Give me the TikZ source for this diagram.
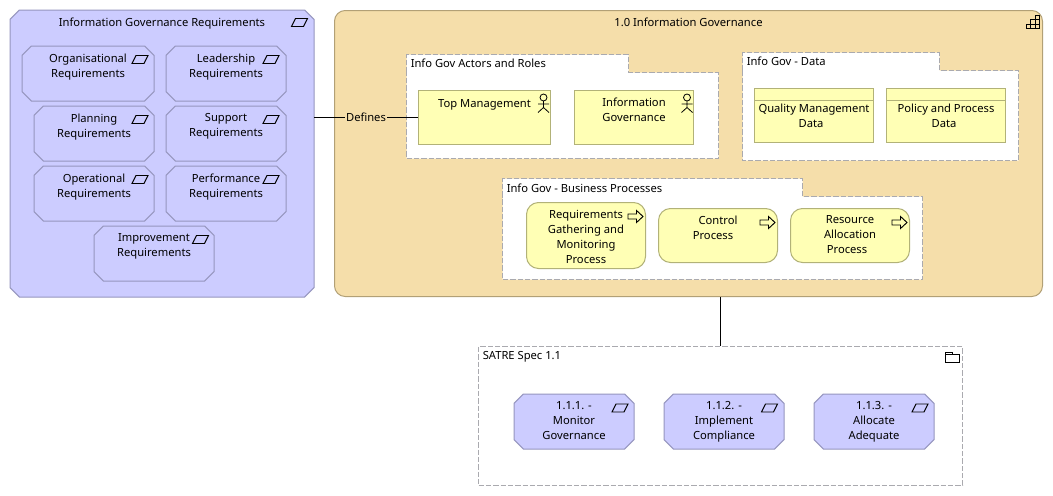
\documentclass[tikz,border=0pt]{standalone}
\usepackage{fontspec}
\setmainfont{Noto Sans}
\definecolor{reqblue}{RGB}{204, 204, 255}
\definecolor{reqline}{RGB}{150, 150, 190}
\definecolor{govtan}{RGB}{245, 222, 170}
\definecolor{govline}{RGB}{178, 160, 118}
\definecolor{actyellow}{RGB}{255, 255, 181}
\definecolor{actline}{RGB}{178, 178, 120}
\definecolor{dashgray}{RGB}{170, 170, 175}
\makeatletter
\pgfdeclareshape{octbox}{
  \inheritsavedanchors[from=rectangle]
  \inheritanchorborder[from=rectangle]
  \inheritanchor[from=rectangle]{center}
  \inheritanchor[from=rectangle]{north}
  \inheritanchor[from=rectangle]{south}
  \inheritanchor[from=rectangle]{east}
  \inheritanchor[from=rectangle]{west}
  \backgroundpath{
    \southwest \edef\octxa{\the\pgf@x}\edef\octya{\the\pgf@y}
    \northeast \edef\octxb{\the\pgf@x}\edef\octyb{\the\pgf@y}
    \def\octc{7pt}
    \pgfpathmoveto{\pgfpoint{\octxa+\octc}{\octya}}
    \pgfpathlineto{\pgfpoint{\octxb-\octc}{\octya}}
    \pgfpathlineto{\pgfpoint{\octxb}{\octya+\octc}}
    \pgfpathlineto{\pgfpoint{\octxb}{\octyb-\octc}}
    \pgfpathlineto{\pgfpoint{\octxb-\octc}{\octyb}}
    \pgfpathlineto{\pgfpoint{\octxa+\octc}{\octyb}}
    \pgfpathlineto{\pgfpoint{\octxa}{\octyb-\octc}}
    \pgfpathlineto{\pgfpoint{\octxa}{\octya+\octc}}
    \pgfpathclose
  }
}
\makeatother
\tikzset{
  boxtext/.style={anchor=north, yshift=-5.7pt, inner sep=0pt, align=center, execute at begin node={\rule{0pt}{7pt}}, font=\fontsize{8.4}{11.25}\selectfont},
  plaintext/.style={anchor=west, inner sep=0pt, font=\fontsize{8.4}{11.25}\selectfont},
  reqgroup/.style={draw=reqline, fill=reqblue, line width=0.75pt, shape=octbox, inner sep=0pt},
  reqbox/.style={reqgroup, minimum width=89.25pt, minimum height=40.5pt},
  actbox/.style={draw=actline, fill=actyellow, line width=0.75pt, inner sep=0pt, minimum width=89.25pt, minimum height=40.5pt},
  procbox/.style={actbox, rounded corners=9pt},
  dashline/.style={draw=dashgray, line width=0.75pt, dash pattern=on 4pt off 1.5pt},
  conn/.style={line width=0.75pt, black},
  reqicon/.pic={\draw[line width=0.7pt] (-8,4) -- (-4,-4) -- (8,-4) -- (4,4) -- cycle;},
  actoricon/.pic={
    \draw[line width=0.6pt] (0,-6) circle[radius=3.5];
    \draw[line width=0.6pt] (0,-2.5) -- (0,4) (-5.5,0.5) -- (5.5,0.5) (-5.5,9) -- (0,4) -- (5.5,9);},
  procicon/.pic={\draw[line width=0.7pt] (-7.5,-2.5) -- (1,-2.5) -- (1,-6) -- (7.5,0) -- (1,6) -- (1,2.5) -- (-7.5,2.5) -- cycle;}
}
\begin{document}
\begin{tikzpicture}[x=0.75pt, y=-0.75pt]
  \useasboundingbox[fill=white] (-0.5,-0.5) rectangle (1052.5,495.5);

  % requirements group
  \node[reqgroup, minimum width=227.25pt, minimum height=214.5pt, label={[boxtext, yshift=0.5pt]north:Information Governance Requirements}] (reqs) at (161.5,153) {};
  \pic at (299,22) {reqicon};
  \node[reqbox, minimum width=98.25pt, label={[boxtext]north:Organisational\\Requirements}] (organisational) at (87.5,73) {};
  \node[reqbox, label={[boxtext]north:Leadership\\Requirements}] (leadership) at (225.5,73) {};
  \node[reqbox, label={[boxtext]north:Planning\\Requirements}] (planning) at (93.5,133) {};
  \node[reqbox, label={[boxtext]north:Support\\Requirements}] (support) at (225.5,133) {};
  \node[reqbox, label={[boxtext]north:Operational\\Requirements}] (operational) at (93.5,193) {};
  \node[reqbox, label={[boxtext]north:Performance\\Requirements}] (performance) at (225.5,193) {};
  \node[reqbox, label={[boxtext]north:Improvement\\Requirements}] (improvement) at (153.5,253) {};
  \foreach \x/\y in {139.5/59, 270.5/59, 139.5/119, 270.5/119, 139.5/179, 270.5/179, 200/239}
    \pic at (\x,\y) {reqicon};

  % capability
  \node[draw=govline, fill=govtan, line width=0.75pt, rounded corners=8pt, inner sep=0pt, minimum width=531pt, minimum height=214.5pt, label={[boxtext, yshift=0.5pt]north:1.0 Information Governance}] (gov) at (688,153) {};
  \draw[line width=0.7pt] (1026,28) -- (1039,28) -- (1039,15) -- (1035,15) -- (1035,28) (1030,28) -- (1030,19) -- (1039,19) (1026,28) -- (1026,24) -- (1039,24);

  % actors
  \draw[dashline, fill=white] (406,72) |- (628,54) |- (718,72) |- (406,158) -- cycle;
  \node[plaintext] (actorstitle) at (410,63) {Info Gov Actors and Roles};
  \node[actbox, minimum width=99pt, label={[boxtext]north:Top Management}] (topmgmt) at (484,117) {};
  \node[actbox, label={[boxtext]north:Information\\Governance}] (infogov) at (633.5,117) {};
  \pic at (543,103) {actoricon};
  \pic at (686.5,103) {actoricon};

  % data
  \draw[dashline, fill=white] (742,70) |- (939,52) |- (1018,70) |- (742,160) -- cycle;
  \node[plaintext] (datatitle) at (746,61) {Info Gov - Data};
  \node[actbox, label={[boxtext, yshift=-6pt]north:Quality Management\\Data\hspace*{4.5pt}}] (qualdata) at (813.5,115) {};
  \node[actbox, label={[boxtext, yshift=-6pt]north:Policy and Process\\Data\hspace*{3pt}}] (policydata) at (945.5,115) {};
  \draw[draw=actline, line width=0.75pt] ([yshift=-9pt]qualdata.north west) -- ([yshift=-9pt]qualdata.north east);
  \draw[draw=actline, line width=0.75pt] ([yshift=-9pt]policydata.north west) -- ([yshift=-9pt]policydata.north east);

  % business processes
  \draw[dashline, fill=white] (502,196) |- (802,178) |- (922,196) |- (502,279) -- cycle;
  \node[plaintext] (proctitle) at (506,187.5) {Info Gov - Business Processes};
  \node[procbox, minimum height=49.5pt, label={[boxtext]north:Requirements\\Gathering and\\Monitoring\\Process}] (reqproc) at (585.5,235) {};
  \node[procbox, label={[boxtext]north:Control\\Process\hspace*{7.5pt}}] (ctrlproc) at (717.5,235) {};
  \node[procbox, label={[boxtext]north:Resource\\Allocation\\Process\hspace*{4.5pt}}] (resproc) at (849.5,235) {};
  \pic at (635,216) {procicon};
  \pic at (767,222) {procicon};
  \pic at (899,222) {procicon};

  % spec grouping
  \node[dashline, inner sep=0pt, minimum width=363pt, minimum height=104.25pt, shape=rectangle] (satre) at (720,415.5) {};
  \node[plaintext] (satretitle) at (482,356) {SATRE Spec 1.1};
  \draw[line width=0.7pt] (945,354) -- (959,354) -- (959,362) -- (945,362) -- (945,352) -- (952,352) -- (952,354);
  \node[reqbox, label={[boxtext]north:1.1.1. -\\Monitor\\Governance}] (monitor) at (573.5,421) {};
  \node[reqbox, label={[boxtext]north:1.1.2. -\\Implement\\Compliance}] (implement) at (723.5,421) {};
  \node[reqbox, label={[boxtext]north:1.1.3. -\\Allocate\\Adequate}] (allocate) at (873.5,421) {};
  \foreach \x in {619.5, 769, 919.5}
    \pic at (\x,407.5) {reqicon};

  % connectors
  \draw[conn] (reqs.east |- topmgmt.west) -- node[fill=govtan, inner sep=1pt, font=\fontsize{8.4}{11.25}\selectfont] (defines) {Defines} (topmgmt.west);
  \draw[conn] (gov.south -| satre.north) -- (satre.north);
\end{tikzpicture}
\end{document}
